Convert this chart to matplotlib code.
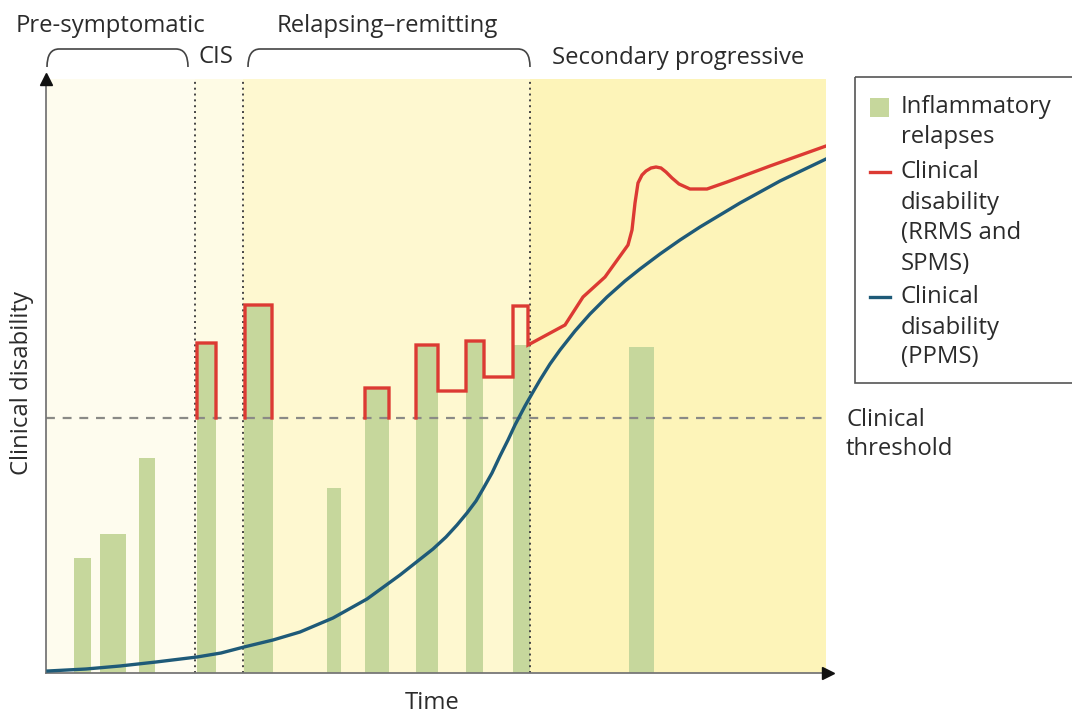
import numpy as np
import matplotlib
matplotlib.use("Agg")
import matplotlib.pyplot as plt
from matplotlib.path import Path
from matplotlib.patches import PathPatch, Rectangle

plt.rcParams['font.family'] = ['Open Sans', 'DejaVu Sans']

# --- данные (время и инвалидность в условных единицах) ---
phase_edges = [0, 149, 197, 484, 780]          # границы фаз по времени
phase_colors = ['#FEFCEE', '#FEFBE5', '#FEF8D0', '#FDF4B9']
threshold = 255

# воспалительные обострения: начало, длительность, высота
relapse_start = [28, 54, 93, 151, 198, 281, 319, 370, 420, 467, 583]
relapse_len = [17, 26, 16, 19, 29, 14, 24, 22, 17, 17, 25]
relapse_height = [115, 139, 215, 330, 368, 185, 285, 328, 333, 328, 326]

# клиническая инвалидность RRMS/SPMS (NaN = разрыв линии)
rrms_t = [151, 151, 170, 170, np.nan,
          199, 199, 226, 226, np.nan,
          319, 319, 343, 343, np.nan,
          370, 370, 392, 392, 420, 420, 438, 438, 467, 467, 482, 482,
          519, 537, 559, 582, 586, 589, 592, 596, 600, 605, 610, 615, 620,
          626, 633, 644, 661, 681, 724, 780]
rrms_y = [255, 330, 330, 255, np.nan,
          255, 368, 368, 255, np.nan,
          255, 285, 285, 255, np.nan,
          255, 328, 328, 282, 282, 332, 332, 296, 296, 367, 367, 328,
          348, 376, 396, 428, 443, 470, 490, 498, 502, 505, 506, 505, 501,
          495, 489, 484, 484, 491, 507, 527]

# клиническая инвалидность PPMS
ppms_t = [2, 40, 74, 110, 151, 175, 198, 227, 254, 287, 321, 354, 387,
          400, 411, 421, 430, 437, 446, 454, 462, 469, 479, 487, 494,
          504, 514, 529, 544, 561, 579, 594, 614, 634, 654, 674, 694,
          714, 734, 757, 780]
ppms_y = [2, 4, 7, 11, 16, 20, 26, 33, 41, 55, 74, 98, 124,
          136, 148, 160, 172, 184, 200, 217, 233, 248, 267, 281, 293,
          309, 323, 342, 359, 376, 392, 404, 419, 433, 446, 458, 470,
          481, 492, 503, 514]

W, H = 1072, 715
fig = plt.figure(figsize=(W / 100, H / 100), dpi=100)
fig.patch.set_facecolor('white')

ax = fig.add_axes([46 / W, (H - 673) / H, 780 / W, (673 - 79) / H])
ax.set_xlim(0, 780)
ax.set_ylim(0, 594)

for i in range(len(phase_colors)):
    ax.axvspan(phase_edges[i], phase_edges[i + 1], color=phase_colors[i], lw=0, zorder=0)

ax.bar(relapse_start, relapse_height, width=relapse_len, align='edge',
       color='#C6D79C', zorder=1)

ax.axhline(threshold, color='#8a8a86', ls=(0, (4, 3.5)), lw=1.6, zorder=2)
for xe in phase_edges[1:4]:
    ax.axvline(xe, color='#444444', ls=(0, (1, 2)), lw=1.4, zorder=2)

ax.plot(rrms_t, rrms_y, color='#DC3A33', lw=2.4, solid_joinstyle='miter', zorder=3)
ax.plot(ppms_t, ppms_y, color='#1E5A78', lw=2.4, solid_joinstyle='round', zorder=4)

for s in ['top', 'right']:
    ax.spines[s].set_visible(False)
for s in ['left', 'bottom']:
    ax.spines[s].set_color('#777777')
    ax.spines[s].set_linewidth(1.3)
ax.set_xticks([])
ax.set_yticks([])
ax.plot([0], [594], marker='^', ms=9, color='#111111', clip_on=False, zorder=5)
ax.plot([782], [0], marker='>', ms=9, color='#111111', clip_on=False, zorder=5)

# --- подписи и легенда поверх, в пиксельных координатах ---
ov = fig.add_axes([0, 0, 1, 1])
ov.set_xlim(0, W)
ov.set_ylim(H, 0)
ov.axis('off')

tc = '#2b2b2b'
fs = 17.2


def bracket(x0, x1, ytop, ybot, r=12):
    verts = [(x0, ybot), (x0, ytop), (x0 + r, ytop), (x1 - r, ytop),
             (x1, ytop), (x1, ybot)]
    codes = [Path.MOVETO, Path.CURVE3, Path.CURVE3, Path.LINETO,
             Path.CURVE3, Path.CURVE3]
    ov.add_patch(PathPatch(Path(verts, codes), fill=False, ec='#444444', lw=1.2))


def lines(x, ys, words):
    for y, w in zip(ys, words):
        ov.text(x, y, w, ha='left', va='center', fontsize=fs, color=tc)


bracket(47, 188, 49, 67)
bracket(248, 530, 49, 67)

ov.text(110, 26, 'Pre-symptomatic', ha='center', va='center', fontsize=fs, color=tc)
ov.text(387, 26, 'Relapsing–remitting', ha='center', va='center', fontsize=fs, color=tc)
ov.text(216, 57, 'CIS', ha='center', va='center', fontsize=fs, color=tc)
ov.text(678, 58, 'Secondary progressive', ha='center', va='center', fontsize=fs, color=tc)
lines(846, [420, 449], ['Clinical', 'threshold'])
ov.text(22, 383, 'Clinical disability', ha='center', va='center', rotation=90,
        fontsize=fs, color=tc)
ov.text(432, 703, 'Time', ha='center', va='center', fontsize=fs, color=tc)

ov.add_patch(Rectangle((855, 77), 240, 306, fill=False, ec='#555555', lw=1.2, clip_on=False))
ov.add_patch(Rectangle((870, 98), 19, 19, color='#C6D79C', lw=0))
ov.plot([870, 890], [172, 172], color='#DC3A33', lw=2.4)
ov.plot([870, 890], [297, 297], color='#1E5A78', lw=2.4)
lines(901, [107, 137], ['Inflammatory', 'relapses'])
lines(901, [172, 203, 233, 264], ['Clinical', 'disability', '(RRMS and', 'SPMS)'])
lines(901, [297, 328, 357], ['Clinical', 'disability', '(PPMS)'])

fig.savefig('out.png', dpi=100)
